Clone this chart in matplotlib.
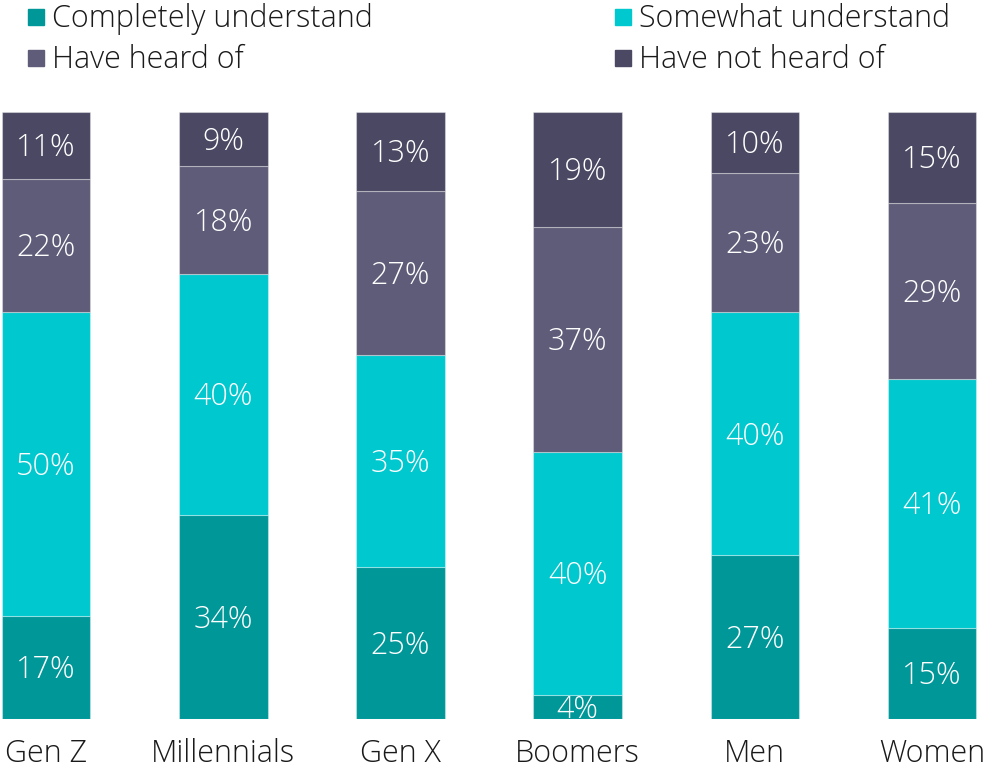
import matplotlib
matplotlib.use("Agg")
import matplotlib.pyplot as plt
import numpy as np
from matplotlib.patches import Rectangle

plt.rcParams["font.family"] = ["Open Sans", "DejaVu Sans"]
plt.rcParams["font.weight"] = "light"

groups = ["Gen Z", "Millennials", "Gen X", "Boomers", "Men", "Women"]
series = ["Completely understand", "Somewhat understand", "Have heard of", "Have not heard of"]
completely = [17, 34, 25, 4, 27, 15]
somewhat = [50, 40, 35, 40, 40, 41]
heard = [22, 18, 27, 37, 23, 29]
not_heard = [11, 9, 13, 19, 10, 15]
colors = ["#009799", "#00c8cf", "#5e5c78", "#4a4862"]

FS = 22
W, H = 986, 769

values = np.array([completely, somewhat, heard, not_heard], dtype=float)
shares = values / values.sum(axis=0)

fig = plt.figure(figsize=(W / 100, H / 100), dpi=100)
ax = fig.add_axes([0, 50 / H, 1, 607 / H])

x = np.arange(len(groups))
bottom = np.zeros(len(groups))
for vals, share, col in zip(values, shares, colors):
    ax.bar(x, share, 0.5, bottom=bottom, color=col,
           edgecolor=(1, 1, 1, 0.35), linewidth=0.8)
    for xi, b, s, v in zip(x, bottom, share, vals):
        # baseline pushed down by half the cap height so digits sit centred
        ax.annotate(f"{v:.0f}%", (xi, b + s / 2), xytext=(0, -7.8),
                    textcoords="offset points", ha="center", va="baseline",
                    color="white", fontsize=FS)
    bottom += share

px = 886 / 5
xmin = -46 / px
ax.set_xlim(xmin, xmin + W / px)
ax.set_ylim(0, 1)
ax.axis("off")

for xi, g in zip(x, groups):
    ax.text(xi, (7 - 50) / 607, g, ha="center", va="baseline", fontsize=FS,
            color="#1a1a1a")

# legend, two columns
legend_pos = [(28, 27), (615, 27), (28, 68), (615, 68)]
for (lx, ly), name, col in zip(legend_pos, series, colors):
    fig.patches.append(Rectangle((lx / W, 1 - (ly - 2) / H), 16 / W, 16 / H,
                                 transform=fig.transFigure, color=col))
    fig.text((lx + 24) / W, 1 - ly / H, name, ha="left", va="baseline",
             fontsize=FS, color="#1a1a1a")

fig.savefig("out.png", dpi=100)
